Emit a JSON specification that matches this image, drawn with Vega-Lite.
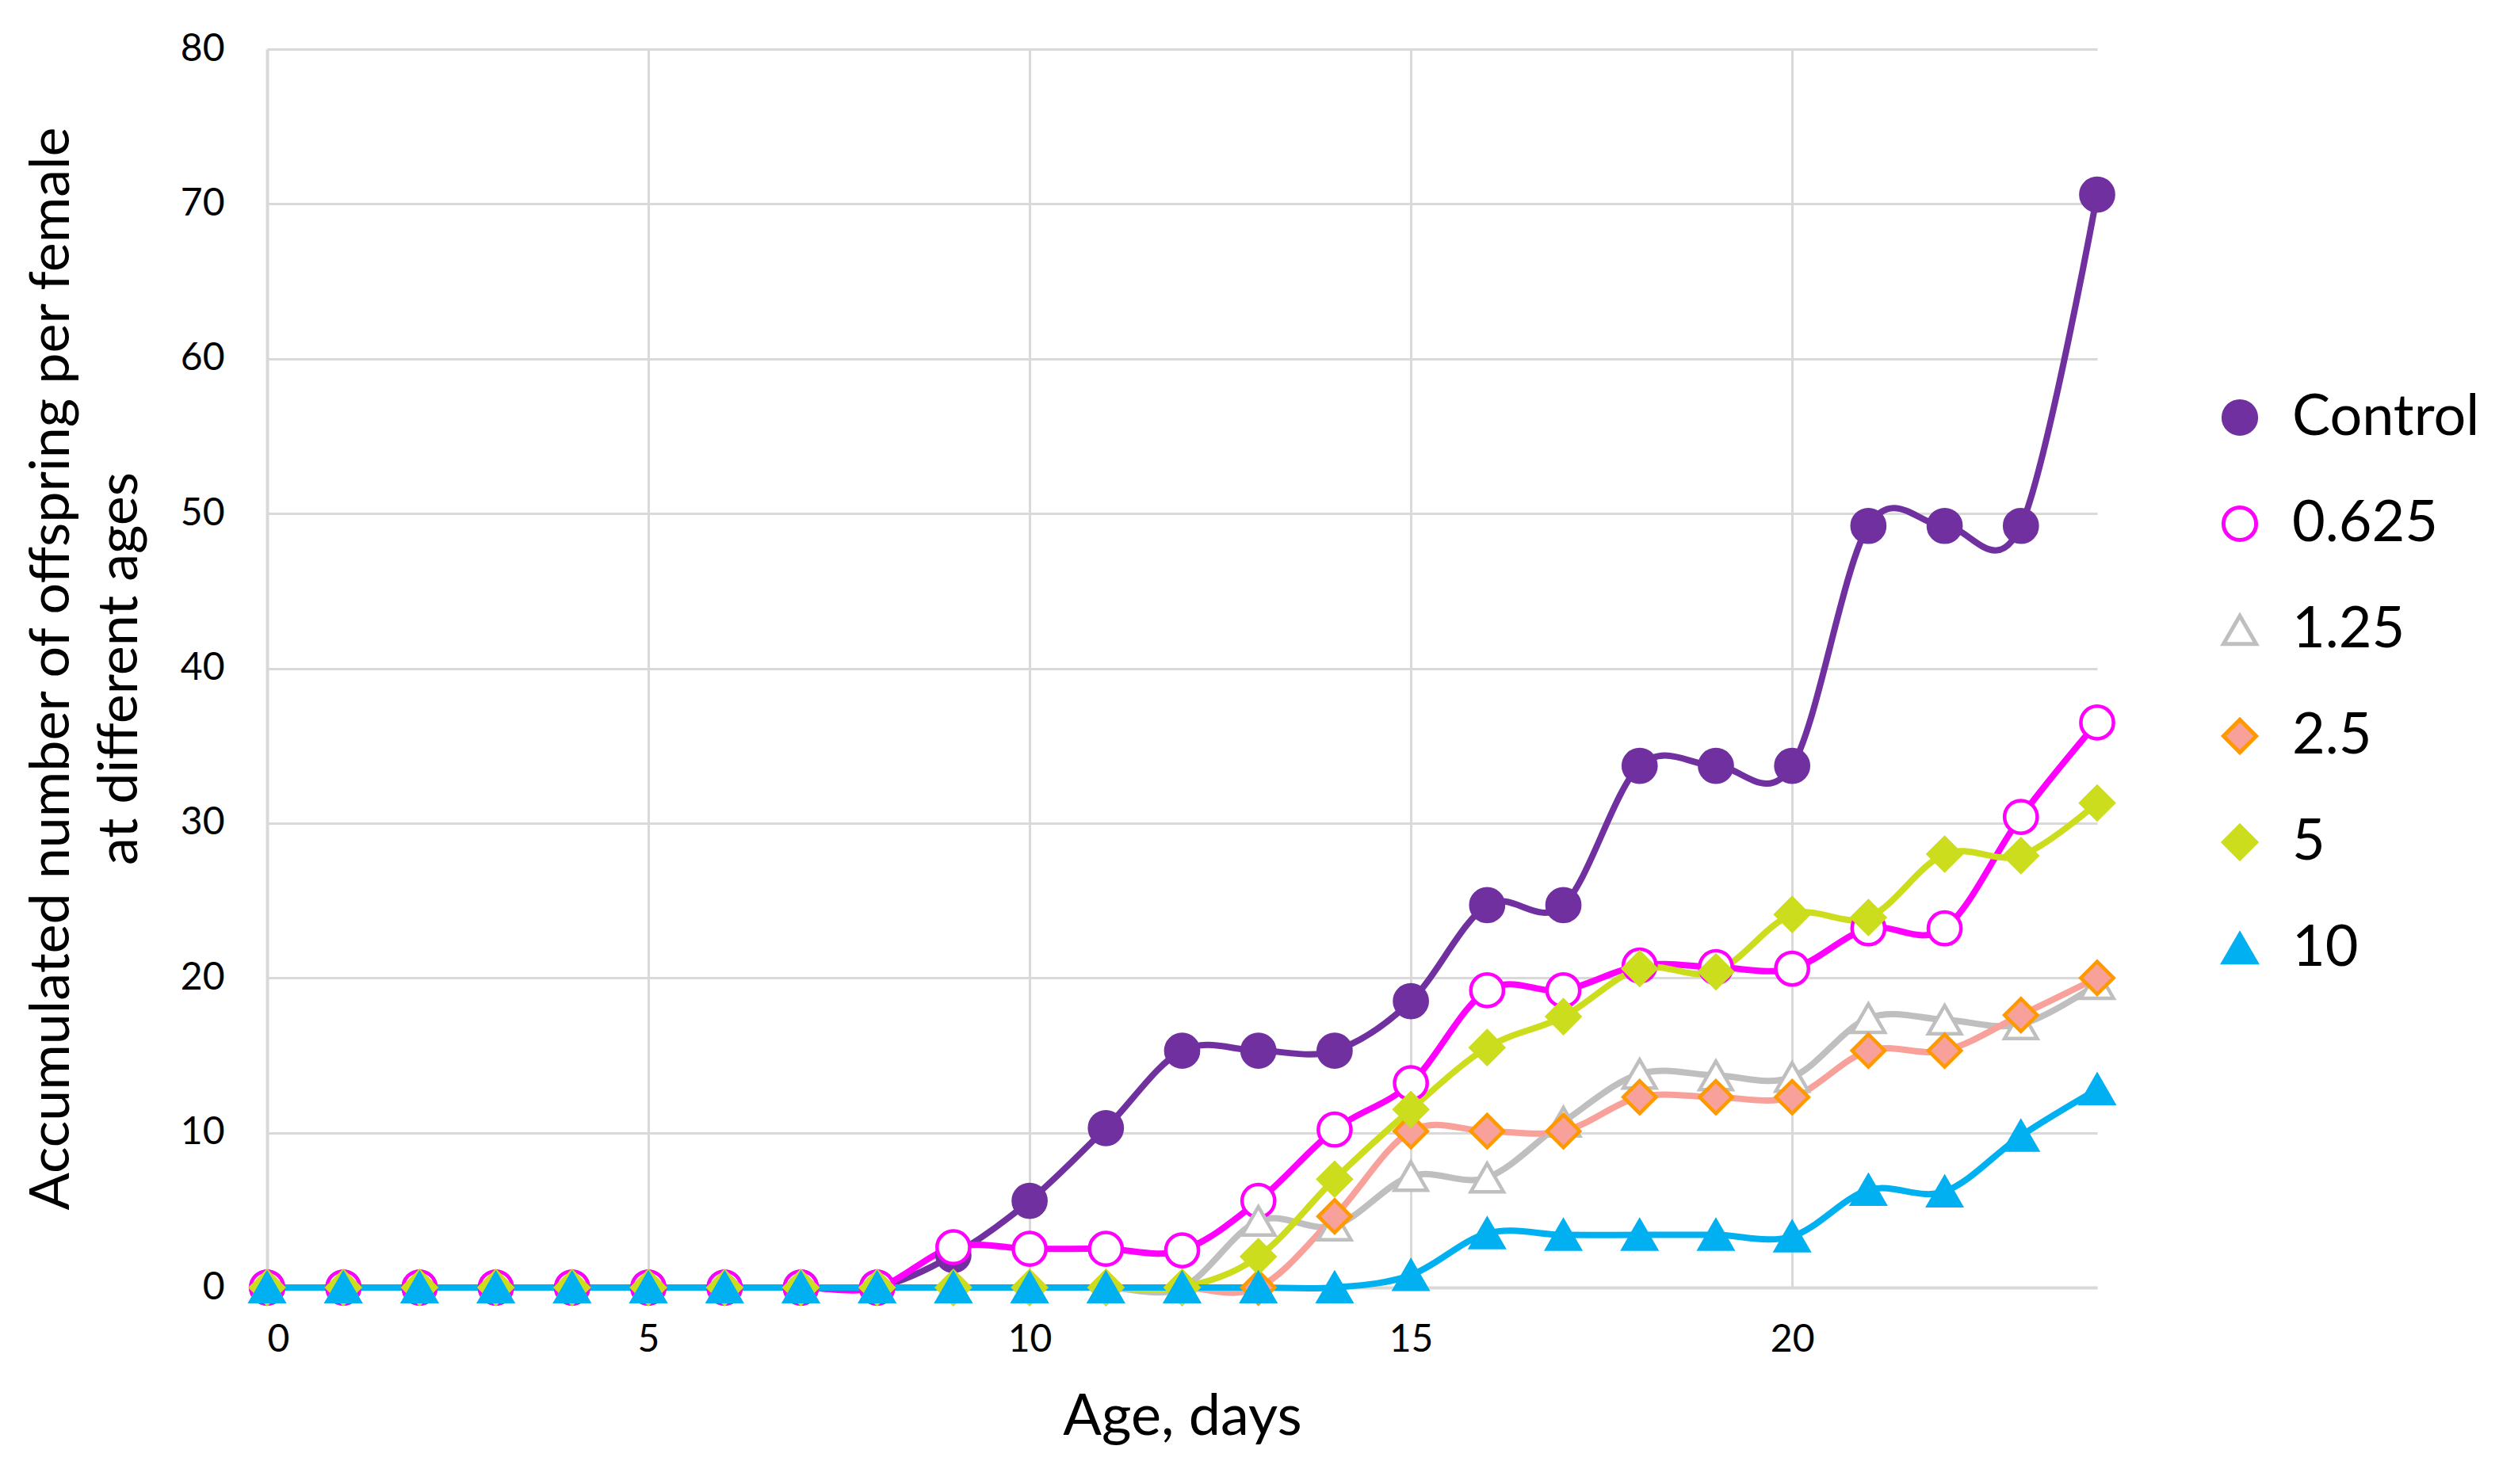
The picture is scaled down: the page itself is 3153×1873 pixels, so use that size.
{
  "$schema": "https://vega.github.io/schema/vega-lite/v6.json",
  "width": 2309,
  "height": 1563,
  "padding": {"left": 30, "top": 38, "right": 0, "bottom": 0},
  "background": "white",
  "config": {
    "font": "Lato",
    "view": {"stroke": null},
    "axis": {"gridColor": "#D9D9D9", "gridWidth": 3, "domainColor": "#D9D9D9", "domainWidth": 4, "ticks": false, "labelColor": "#000000", "titleColor": "#000000", "titleFontWeight": "normal", "labelFont": "Lato", "titleFont": "Lato"},
    "legend": {"orient": "none", "legendX": 2453, "legendY": 429, "labelFontSize": 72, "labelFont": "Lato", "labelColor": "#000000", "labelLimit": 0, "symbolSize": 1700, "symbolStrokeWidth": 5, "rowPadding": 62, "labelOffset": 30, "padding": 0}
  },
  "data": {"values": [
    {"day":0,"series":"Control","value":0},{"day":1,"series":"Control","value":0},{"day":2,"series":"Control","value":0},{"day":3,"series":"Control","value":0},{"day":4,"series":"Control","value":0},{"day":5,"series":"Control","value":0},{"day":6,"series":"Control","value":0},{"day":7,"series":"Control","value":0},{"day":8,"series":"Control","value":0},{"day":9,"series":"Control","value":2.1},{"day":10,"series":"Control","value":5.6},{"day":11,"series":"Control","value":10.3},{"day":12,"series":"Control","value":15.3},{"day":13,"series":"Control","value":15.3},{"day":14,"series":"Control","value":15.3},{"day":15,"series":"Control","value":18.5},{"day":16,"series":"Control","value":24.7},{"day":17,"series":"Control","value":24.7},{"day":18,"series":"Control","value":33.7},{"day":19,"series":"Control","value":33.7},{"day":20,"series":"Control","value":33.7},{"day":21,"series":"Control","value":49.2},{"day":22,"series":"Control","value":49.2},{"day":23,"series":"Control","value":49.2},{"day":24,"series":"Control","value":70.6},
    {"day":0,"series":"0.625","value":0},{"day":1,"series":"0.625","value":0},{"day":2,"series":"0.625","value":0},{"day":3,"series":"0.625","value":0},{"day":4,"series":"0.625","value":0},{"day":5,"series":"0.625","value":0},{"day":6,"series":"0.625","value":0},{"day":7,"series":"0.625","value":0},{"day":8,"series":"0.625","value":0},{"day":9,"series":"0.625","value":2.6},{"day":10,"series":"0.625","value":2.5},{"day":11,"series":"0.625","value":2.5},{"day":12,"series":"0.625","value":2.4},{"day":13,"series":"0.625","value":5.6},{"day":14,"series":"0.625","value":10.2},{"day":15,"series":"0.625","value":13.2},{"day":16,"series":"0.625","value":19.2},{"day":17,"series":"0.625","value":19.2},{"day":18,"series":"0.625","value":20.8},{"day":19,"series":"0.625","value":20.7},{"day":20,"series":"0.625","value":20.6},{"day":21,"series":"0.625","value":23.2},{"day":22,"series":"0.625","value":23.2},{"day":23,"series":"0.625","value":30.4},{"day":24,"series":"0.625","value":36.5},
    {"day":0,"series":"1.25","value":0},{"day":1,"series":"1.25","value":0},{"day":2,"series":"1.25","value":0},{"day":3,"series":"1.25","value":0},{"day":4,"series":"1.25","value":0},{"day":5,"series":"1.25","value":0},{"day":6,"series":"1.25","value":0},{"day":7,"series":"1.25","value":0},{"day":8,"series":"1.25","value":0},{"day":9,"series":"1.25","value":0},{"day":10,"series":"1.25","value":0},{"day":11,"series":"1.25","value":0},{"day":12,"series":"1.25","value":0},{"day":13,"series":"1.25","value":4.3},{"day":14,"series":"1.25","value":4.0},{"day":15,"series":"1.25","value":7.2},{"day":16,"series":"1.25","value":7.1},{"day":17,"series":"1.25","value":10.7},{"day":18,"series":"1.25","value":13.8},{"day":19,"series":"1.25","value":13.7},{"day":20,"series":"1.25","value":13.6},{"day":21,"series":"1.25","value":17.4},{"day":22,"series":"1.25","value":17.3},{"day":23,"series":"1.25","value":17.0},{"day":24,"series":"1.25","value":19.6},
    {"day":0,"series":"2.5","value":0},{"day":1,"series":"2.5","value":0},{"day":2,"series":"2.5","value":0},{"day":3,"series":"2.5","value":0},{"day":4,"series":"2.5","value":0},{"day":5,"series":"2.5","value":0},{"day":6,"series":"2.5","value":0},{"day":7,"series":"2.5","value":0},{"day":8,"series":"2.5","value":0},{"day":9,"series":"2.5","value":0},{"day":10,"series":"2.5","value":0},{"day":11,"series":"2.5","value":0},{"day":12,"series":"2.5","value":0},{"day":13,"series":"2.5","value":0},{"day":14,"series":"2.5","value":4.6},{"day":15,"series":"2.5","value":10.1},{"day":16,"series":"2.5","value":10.1},{"day":17,"series":"2.5","value":10.1},{"day":18,"series":"2.5","value":12.3},{"day":19,"series":"2.5","value":12.3},{"day":20,"series":"2.5","value":12.3},{"day":21,"series":"2.5","value":15.3},{"day":22,"series":"2.5","value":15.3},{"day":23,"series":"2.5","value":17.6},{"day":24,"series":"2.5","value":20.0},
    {"day":0,"series":"5","value":0},{"day":1,"series":"5","value":0},{"day":2,"series":"5","value":0},{"day":3,"series":"5","value":0},{"day":4,"series":"5","value":0},{"day":5,"series":"5","value":0},{"day":6,"series":"5","value":0},{"day":7,"series":"5","value":0},{"day":8,"series":"5","value":0},{"day":9,"series":"5","value":0},{"day":10,"series":"5","value":0},{"day":11,"series":"5","value":0},{"day":12,"series":"5","value":0},{"day":13,"series":"5","value":2.0},{"day":14,"series":"5","value":7.0},{"day":15,"series":"5","value":11.5},{"day":16,"series":"5","value":15.5},{"day":17,"series":"5","value":17.5},{"day":18,"series":"5","value":20.6},{"day":19,"series":"5","value":20.4},{"day":20,"series":"5","value":24.1},{"day":21,"series":"5","value":23.9},{"day":22,"series":"5","value":28.0},{"day":23,"series":"5","value":27.9},{"day":24,"series":"5","value":31.3},
    {"day":0,"series":"10","value":0},{"day":1,"series":"10","value":0},{"day":2,"series":"10","value":0},{"day":3,"series":"10","value":0},{"day":4,"series":"10","value":0},{"day":5,"series":"10","value":0},{"day":6,"series":"10","value":0},{"day":7,"series":"10","value":0},{"day":8,"series":"10","value":0},{"day":9,"series":"10","value":0},{"day":10,"series":"10","value":0},{"day":11,"series":"10","value":0},{"day":12,"series":"10","value":0},{"day":13,"series":"10","value":0},{"day":14,"series":"10","value":0},{"day":15,"series":"10","value":0.8},{"day":16,"series":"10","value":3.5},{"day":17,"series":"10","value":3.4},{"day":18,"series":"10","value":3.4},{"day":19,"series":"10","value":3.4},{"day":20,"series":"10","value":3.3},{"day":21,"series":"10","value":6.3},{"day":22,"series":"10","value":6.2},{"day":23,"series":"10","value":9.8},{"day":24,"series":"10","value":12.8}
  ]},
  "encoding": {
    "x": {"field": "day", "type": "quantitative", "scale": {"domain": [0, 24], "nice": false, "zero": false},
      "axis": {"values": [0, 5, 10, 15, 20], "title": "Age, days", "labelFontSize": 48, "labelPadding": 42, "titleFontSize": 72, "titlePadding": 38}},
    "y": {"field": "value", "type": "quantitative", "scale": {"domain": [0, 80], "nice": false},
      "axis": {"values": [0, 10, 20, 30, 40, 50, 60, 70, 80], "title": ["Accumulated number of offspring per female", "at different ages"], "labelFontSize": 48, "labelPadding": 54, "titleFontSize": 70, "titleLineHeight": 86, "titlePadding": 40}}
  },
  "layer": [
    {
      "mark": {"type": "line", "interpolate": "cardinal", "tension": 0, "strokeWidth": 8},
      "encoding": {
        "color": {"field": "series", "type": "nominal", "sort": ["Control", "0.625", "1.25", "2.5", "5", "10"],
          "scale": {"range": ["#7030A0", "#FF00FF", "#BFBFBF", "#F8A19B", "#CCDD1E", "#00B0F0"]},
          "legend": null}
      }
    },
    {
      "mark": {"type": "point", "size": 1700, "strokeWidth": 4.5, "opacity": 1, "fillOpacity": 1},
      "encoding": {
        "shape": {"field": "series", "type": "nominal", "title": null,
          "scale": {"domain": ["Control", "0.625", "1.25", "2.5", "5", "10"], "range": ["circle", "circle", "triangle-up", "diamond", "diamond", "triangle-up"]},
          "legend": {"encode": {"symbols": {"shape": {"value": {"expr": "datum.value === 'Control' || datum.value === '0.625' ? 'M-2.5,0H2.5M1,0A1,1,0,1,1,-1,0A1,1,0,1,1,1,0Z' : (datum.value === '1.25' || datum.value === '10' ? 'M-2.5,0H2.5M0,-0.866L1,0.866L-1,0.866Z' : 'M-2.5,0H2.5M0,-1L1,0L0,1L-1,0Z')"}}}}}},
        "fill": {"field": "series", "type": "nominal", "title": null,
          "scale": {"domain": ["Control", "0.625", "1.25", "2.5", "5", "10"], "range": ["#7030A0", "#FFFFFF", "#FFFFFF", "#F8A19B", "#CCDD1E", "#00B0F0"]},
          "legend": {"encode": {"symbols": {"shape": {"value": {"expr": "datum.value === 'Control' || datum.value === '0.625' ? 'M-2.5,0H2.5M1,0A1,1,0,1,1,-1,0A1,1,0,1,1,1,0Z' : (datum.value === '1.25' || datum.value === '10' ? 'M-2.5,0H2.5M0,-0.866L1,0.866L-1,0.866Z' : 'M-2.5,0H2.5M0,-1L1,0L0,1L-1,0Z')"}}}}}},
        "stroke": {"field": "series", "type": "nominal", "title": null,
          "scale": {"domain": ["Control", "0.625", "1.25", "2.5", "5", "10"], "range": ["#7030A0", "#FF00FF", "#BFBFBF", "#FF9900", "#CCDD1E", "#00B0F0"]},
          "legend": {"encode": {"symbols": {"shape": {"value": {"expr": "datum.value === 'Control' || datum.value === '0.625' ? 'M-2.5,0H2.5M1,0A1,1,0,1,1,-1,0A1,1,0,1,1,1,0Z' : (datum.value === '1.25' || datum.value === '10' ? 'M-2.5,0H2.5M0,-0.866L1,0.866L-1,0.866Z' : 'M-2.5,0H2.5M0,-1L1,0L0,1L-1,0Z')"}}}}}}
      }
    }
  ]
}
